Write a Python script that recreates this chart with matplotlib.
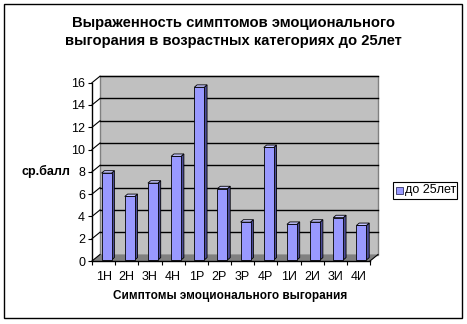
import numpy as np
import matplotlib
matplotlib.use("Agg")
import matplotlib.pyplot as plt
from matplotlib.patches import Polygon, Rectangle

# data
categories = ["1Н", "2Н", "3Н", "4Н", "1Р", "2Р", "3Р", "4Р", "1И", "2И", "3И", "4И"]
values = [7.8, 5.7, 6.9, 9.3, 15.5, 6.4, 3.4, 10.1, 3.2, 3.4, 3.8, 3.1]
series_name = "до 25лет"
y_ticks = [0, 2, 4, 6, 8, 10, 12, 14, 16]

plt.rcParams['font.family'] = ['Liberation Sans', 'DejaVu Sans']

W, H = 467, 324
fig = plt.figure(figsize=(W / 100, H / 100), dpi=100)
fig.patch.set_facecolor("white")

# front plane of the plot, in pixels
left, right, bottom, top = 92, 370, 261, 82.7
ax = fig.add_axes([left / W, 1 - bottom / H, (right - left) / W, (bottom - top) / H])
n = len(categories)
ax.set_xlim(-0.5, n - 0.5)
ax.set_ylim(0, 16)
ax.patch.set_alpha(0)

# depth of the 3d box and of the bars, in data units
px_x = (right - left) / n
px_y = (bottom - top) / 16
dx, dy = 8 / px_x, 6.5 / px_y
bdx, bdy = 2.8 / px_x, 2.4 / px_y

x0, x1 = -0.5, n - 0.5
# back wall
ax.add_patch(Polygon([(x0 + dx, dy), (x1 + dx, dy), (x1 + dx, 16 + dy), (x0 + dx, 16 + dy)],
                     closed=True, facecolor="#c0c0c0", edgecolor="#808080", lw=1,
                     clip_on=False, zorder=0))
# floor
ax.add_patch(Polygon([(x0, 0), (x1, 0), (x1 + dx, dy), (x0 + dx, dy)],
                     closed=True, facecolor="#808080", edgecolor="none",
                     clip_on=False, zorder=0.5))
# grid lines on the wall, diagonal ticks on the side
for t in y_ticks[1:]:
    ax.plot([x0 + dx, x1 + dx], [t + dy, t + dy], color="black", lw=1, clip_on=False, zorder=1)
for t in y_ticks:
    ax.plot([x0, x0 + dx], [t, t + dy], color="black", lw=0.8, clip_on=False, zorder=1)
ax.plot([x1, x1 + dx], [0, dy], color="black", lw=0.8, clip_on=False, zorder=1)

# bars with side and top faces
xs = np.arange(n)
w = 0.43
off = 0.13
base = 0.09
ax.bar(xs + off, values, width=w, bottom=base, color="#9999ff", edgecolor="black",
       linewidth=0.6, zorder=3)
for x, v in zip(xs + off, values):
    r, l = x + w / 2, x - w / 2
    top_v = v + base
    ax.add_patch(Polygon([(r, base), (r + bdx, base + bdy), (r + bdx, top_v + bdy), (r, top_v)],
                         closed=True, facecolor="#4d4d99", edgecolor="black", lw=0.6,
                         clip_on=False, zorder=2.9))
    ax.add_patch(Polygon([(l, top_v), (r, top_v), (r + bdx, top_v + bdy), (l + bdx, top_v + bdy)],
                         closed=True, facecolor="#c4c4ff", edgecolor="black", lw=0.6,
                         clip_on=False, zorder=2.9))

# axes
for s in ["top", "right"]:
    ax.spines[s].set_visible(False)
ax.spines["left"].set_linewidth(1)
ax.spines["bottom"].set_linewidth(1)
ax.spines["left"].set_zorder(4)
ax.spines["bottom"].set_zorder(4)
ax.set_yticks(y_ticks)
ax.set_yticklabels([str(t) for t in y_ticks], fontsize=9)
ax.set_xticks(np.arange(n + 1) - 0.5)
ax.set_xticklabels([])
ax.set_xticks(xs, minor=True)
ax.set_xticklabels(categories, minor=True, fontsize=9)
ax.tick_params(axis="x", which="major", direction="out", length=3, width=0.8)
ax.tick_params(axis="x", which="minor", length=0, pad=7)
ax.tick_params(axis="y", direction="out", length=3, width=0.8, pad=2)

# texts
fig.text(233 / W, 1 - 32 / H, "Выраженность симптомов эмоционального\nвыгорания в возрастных категориях до 25лет",
         ha="center", va="center", fontsize=10.6, fontweight="bold", linespacing=1.4)
fig.text(46 / W, 1 - 171 / H, "ср.балл", ha="center", va="center", fontsize=9, fontweight="bold")
fig.text(230 / W, 1 - 296 / H, "Симптомы эмоционального выгорания", ha="center", va="center",
         fontsize=8.5, fontweight="bold")

# legend box
fig.patches.append(Rectangle((393 / W, 1 - 199 / H), 64 / W, 17 / H, transform=fig.transFigure,
                             facecolor="white", edgecolor="black", lw=0.8))
fig.patches.append(Rectangle((396 / W, 1 - 194 / H), 7 / W, 7 / H, transform=fig.transFigure,
                             facecolor="#9999ff", edgecolor="#333366", lw=0.6))
fig.text(405 / W, 1 - 190.5 / H, series_name, ha="left", va="center", fontsize=9)

# outer frame
fig.patches.append(Rectangle((4 / W, 1 - 318 / H), 458 / W, 314 / H, transform=fig.transFigure,
                             facecolor="none", edgecolor="black", lw=1))

fig.savefig("out.png", dpi=100)
